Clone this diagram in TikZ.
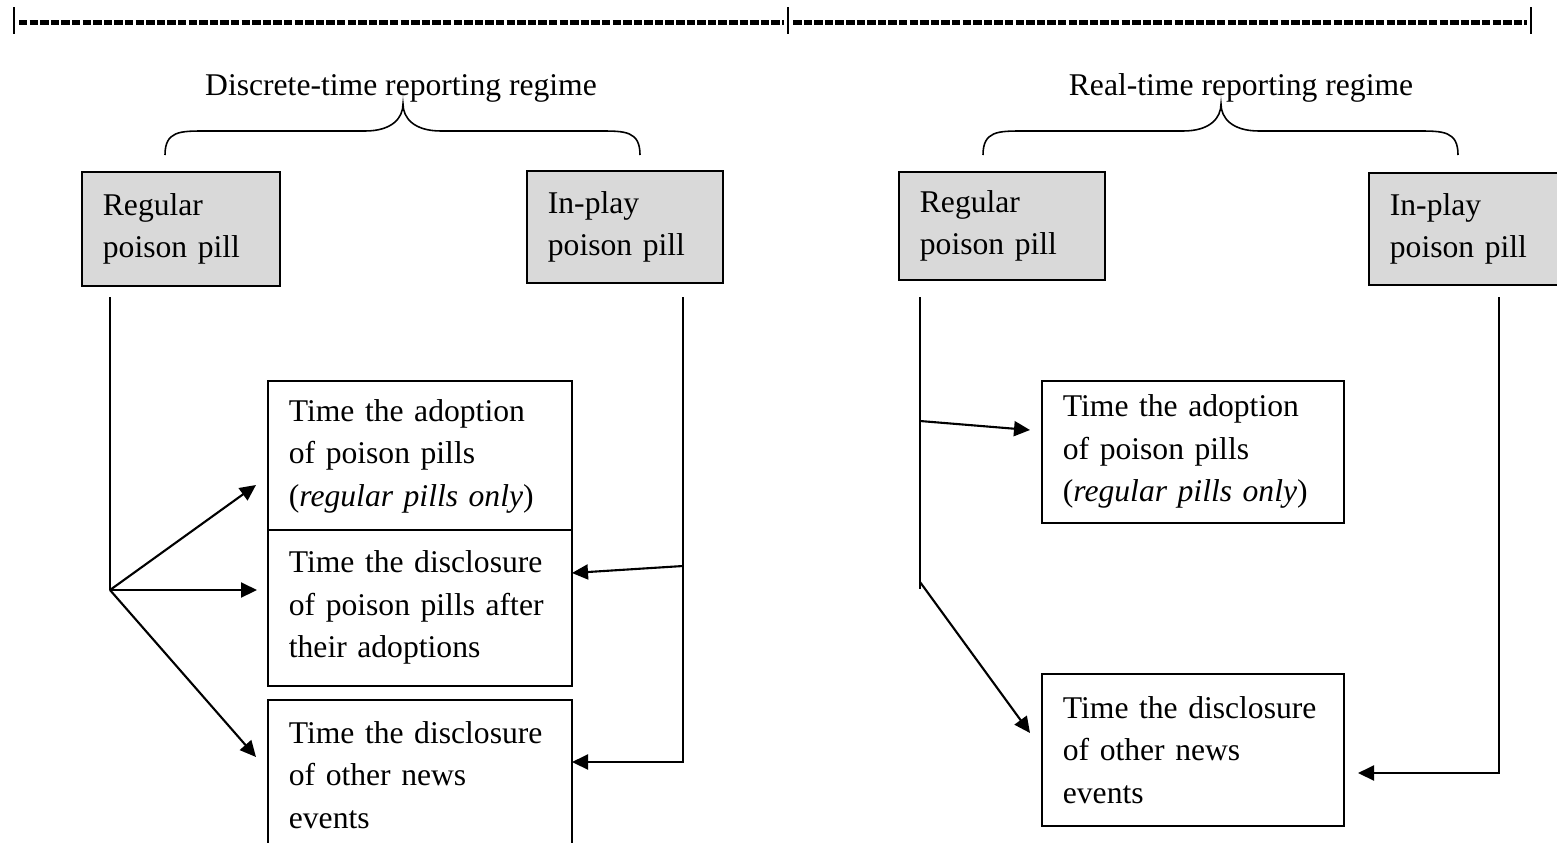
\documentclass[tikz,border=0pt]{standalone}
\usepackage{fontspec}
\setmainfont{Liberation Serif}
\usetikzlibrary{arrows.meta}
\definecolor{pillgray}{HTML}{D9D9D9}
\tikzset{
  txt/.style={font=\fontsize{18}{24.2}\selectfont},
  pill/.style={txt, draw, line width=1pt, fill=pillgray, anchor=north west, align=left, inner xsep=0.42cm, inner ysep=0pt},
  task/.style={txt, draw, line width=1pt, fill=white, anchor=north west, align=left, inner xsep=0.42cm, inner ysep=0pt},
  trunk/.style={line width=1.2pt},
  link/.style={line width=1.2pt, -{Triangle[length=0.32cm,width=0.3cm]}},
  sepline/.style={line width=0.1cm, dash pattern=on 0.17cm off 0.042cm},
}
\begin{document}
\begin{tikzpicture}[x=0.02cm, y=-0.02cm]
  \useasboundingbox (0,0) rectangle (1557,842);

  \draw[sepline] (19,22) -- (784,22);
  \draw[sepline] (793,22) -- (1527,22);
  \draw[line width=0.045cm] (14,7) -- (14,34) (788,7) -- (788,34) (1531,7) -- (1531,34);

  \node[txt] (discrete) at (401,88) {Discrete-time reporting regime};
  \node[txt] (realtime) at (1241,88) {Real-time reporting regime};

  \foreach \t in {403,1221}
    \draw[line width=0.9pt] ({\t-238},155) .. controls ({\t-238},131) and ({\t-223},131) .. ({\t-198},131) -- ({\t-38},131)
      .. controls ({\t-11},131) and (\t,118) .. (\t,104)
      .. controls (\t,118) and ({\t+11},131) .. ({\t+38},131) -- ({\t+197},131)
      .. controls ({\t+222},131) and ({\t+237},131) .. ({\t+237},155);

  \node[pill, text width=3.12cm, minimum height=2.28cm] (regL) at (81,171) {Regular\\poison pill};
  \node[pill, text width=3.08cm, minimum height=2.24cm] (inpL) at (526,170) {In-play\\poison pill};
  \node[pill, text width=3.28cm, minimum height=2.16cm] (regR) at (898,171) {Regular\\poison pill};
  \node[pill, text width=3.36cm, minimum height=2.24cm] (inpR) at (1368,172) {In-play\\poison pill};

  \node[task, text width=5.24cm, minimum height=3.02cm] (adoptL) at (267,380) {Time the adoption\\of poison pills\\(\textit{regular pills only})};
  \node[task, text width=5.24cm, minimum height=3.12cm] (disclL) at (267,529) {Time the disclosure\\of poison pills after\\their adoptions};
  \node[task, text width=5.24cm, minimum height=3.0cm] (newsL) at (267,699) {Time the disclosure\\of other news\\events};
  \node[task, text width=5.2cm, minimum height=2.84cm] (adoptR) at (1041,380) {Time the adoption\\of poison pills\\(\textit{regular pills only})};
  \node[task, text width=5.2cm, minimum height=3.04cm] (newsR) at (1041,673) {Time the disclosure\\of other news\\events};

  \coordinate (regLfoot) at (110,297);
  \coordinate (fanL) at (110,590);
  \coordinate (toAdoptL) at (256,485);
  \coordinate (toDisclL) at (257,590);
  \coordinate (toNewsL) at (256,757);
  \coordinate (inpLfoot) at (683,297);
  \coordinate (inpLknee) at (683,566);
  \coordinate (inpLbend) at (683,762);
  \coordinate (toDisclLr) at (572,573);
  \coordinate (toNewsLr) at (572,762);
  \coordinate (regRfoot) at (920,297);
  \coordinate (regRknee) at (920,421);
  \coordinate (regRbend) at (920,582);
  \coordinate (regRend) at (920,589);
  \coordinate (toAdoptR) at (1030,430);
  \coordinate (toNewsR) at (1030,733);
  \coordinate (inpRfoot) at (1499,297);
  \coordinate (inpRbend) at (1499,773);
  \coordinate (toNewsRr) at (1358,773);

  \draw[trunk] (regLfoot) -- (fanL);
  \draw[link] (fanL) -- (toAdoptL);
  \draw[link] (fanL) -- (toDisclL);
  \draw[link] (fanL) -- (toNewsL);

  \draw[link] (inpLfoot) -- (inpLbend) -- (toNewsLr);
  \draw[link] (inpLknee) -- (toDisclLr);

  \draw[trunk] (regRfoot) -- (regRend);
  \draw[link] (regRknee) -- (toAdoptR);
  \draw[link] (regRbend) -- (toNewsR);

  \draw[link] (inpRfoot) -- (inpRbend) -- (toNewsRr);
\end{tikzpicture}
\end{document}
